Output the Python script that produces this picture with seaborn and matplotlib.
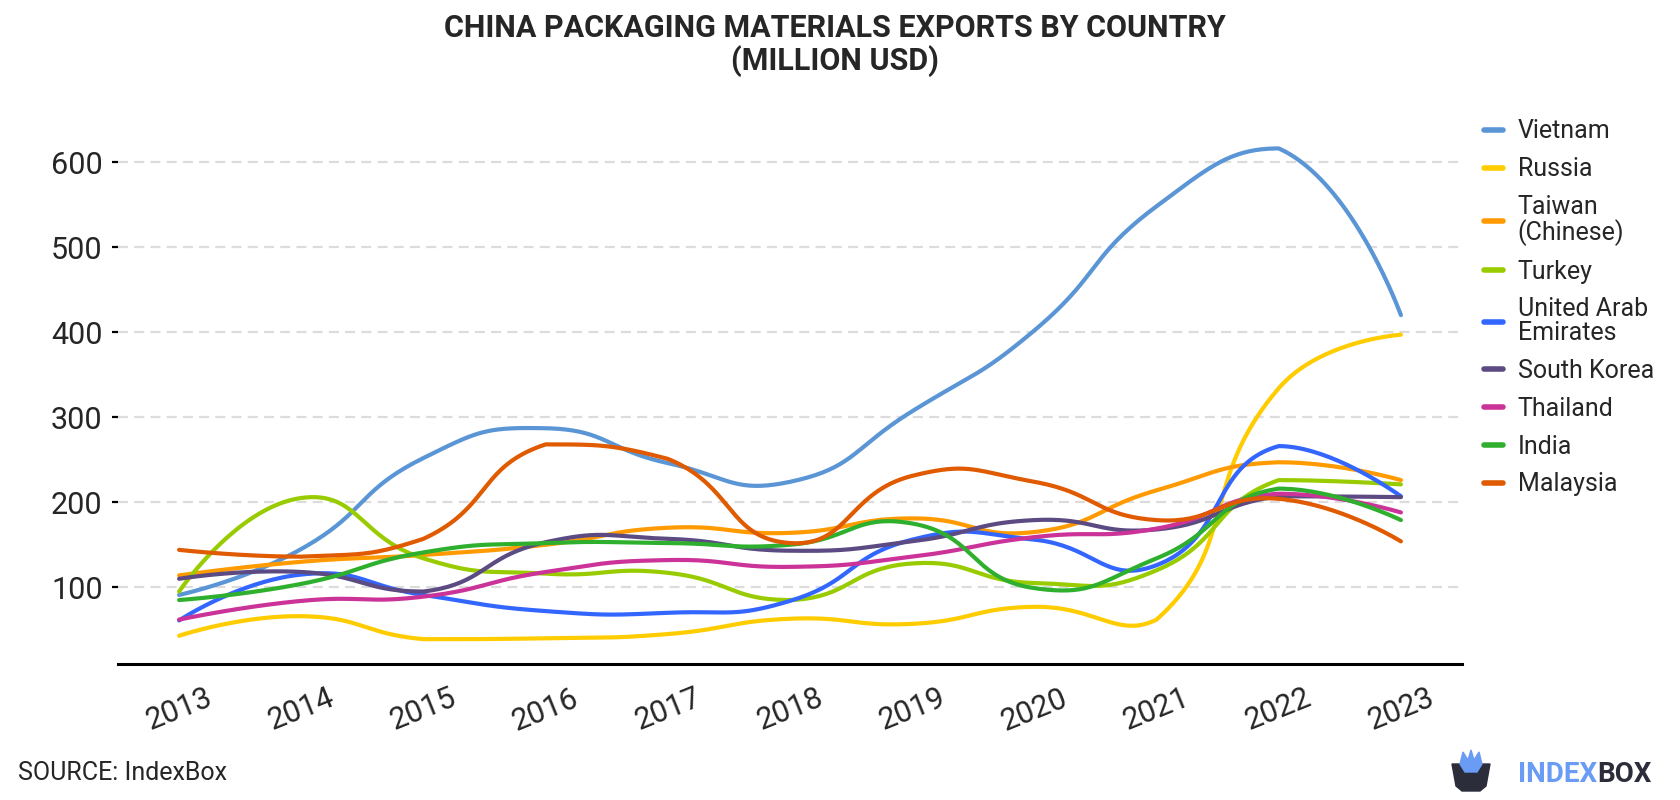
import numpy as np
import pandas as pd
import matplotlib
matplotlib.use("Agg")
import matplotlib.pyplot as plt
from matplotlib.patches import Polygon
import seaborn as sns

# ─── data (million USD) ───────────────────────────────────────────────────────
years = [2013, 2014, 2015, 2016, 2017, 2018, 2019, 2020, 2021, 2022, 2023]

vietnam  = [91, 145, 252, 287, 246, 224, 307, 402, 548, 616, 420]
russia   = [43, 66, 39, 40, 45, 63, 57, 77, 62, 334, 397]
taiwan   = [114, 130, 138, 150, 170, 164, 181, 165, 214, 247, 226]
turkey   = [95, 205, 134, 116, 117, 85, 128, 105, 120, 226, 221]
uae      = [61, 115, 91, 72, 70, 84, 156, 156, 126, 266, 207]
s_korea  = [110, 118, 95, 153, 157, 143, 154, 179, 168, 207, 206]
thailand = [62, 84, 89, 118, 132, 124, 136, 159, 169, 210, 188]
india    = [85, 104, 141, 152, 152, 150, 175, 99, 134, 216, 179]
malaysia = [144, 136, 157, 268, 251, 152, 231, 224, 179, 204, 154]

countries = ["Vietnam", "Russia", "Taiwan (Chinese)", "Turkey", "United Arab Emirates",
             "South Korea", "Thailand", "India", "Malaysia"]
legend_labels = ["Vietnam", "Russia", "Taiwan\n(Chinese)", "Turkey", "United Arab\nEmirates",
                 "South Korea", "Thailand", "India", "Malaysia"]
series = [vietnam, russia, taiwan, turkey, uae, s_korea, thailand, india, malaysia]
colors = ["#5a95d6", "#ffcc00", "#ff9a00", "#99cc00", "#3366ff",
          "#5c4b83", "#cc3399", "#2eb02e", "#e05a00"]

yticks = [100, 200, 300, 400, 500, 600]


# ─── helper: bezier smoothing like the original chart ─────────────────────────
def smooth_line(xs, ys, sx=122.2, sy=0.85, smooth=0.5, n=40):
    """Cubic bezier through the points, control points from neighbours (pixel space)."""
    P = np.column_stack([np.asarray(xs, float) * sx, np.asarray(ys, float) * sy])
    lo, hi = P.min(0), P.max(0)
    out = [P[0]]
    cp0 = P[0].copy()
    t = np.linspace(0, 1, n)[1:, None]
    for i in range(1, len(P)):
        p, prev = P[i], P[i - 1]
        v = None
        if i == len(P) - 1:
            cp1 = p.copy()
        else:
            nxt = P[i + 1]
            v = nxt - prev
            d0 = np.hypot(*(p - prev))
            d1 = np.hypot(*(p - nxt))
            ratio = d1 / (d0 + d1)
            cp1 = p - v * smooth * (1 - ratio)
        c0 = np.clip(cp0, lo, hi)
        c1 = np.clip(cp1, lo, hi)
        B = ((1 - t) ** 3) * prev + 3 * ((1 - t) ** 2) * t * c0 + 3 * (1 - t) * t ** 2 * c1 + t ** 3 * p
        out.extend(B)
        if v is not None:
            cp0 = p + v * smooth * ratio
    out = np.array(out)
    return out[:, 0] / sx, out[:, 1] / sy


rows = []
for name, vals in zip(countries, series):
    sx_, sy_ = smooth_line(years, vals)
    rows.append(pd.DataFrame({"year": sx_, "value": sy_, "country": name}))
df = pd.concat(rows, ignore_index=True)

# ─── plot ─────────────────────────────────────────────────────────────────────
sns.set_style("white")
plt.rcParams["font.family"] = ["Roboto", "DejaVu Sans"]

fig = plt.figure(figsize=(16.8, 8), dpi=100)
ax = fig.add_axes([118 / 1680, 1 - 664 / 800, (1462 - 118) / 1680, (664 - 111) / 800])

sns.lineplot(data=df, x="year", y="value", hue="country", hue_order=countries,
             palette=colors, sort=False, estimator=None, units="country",
             linewidth=3, ax=ax, legend=True)

ax.set_xlim(2012.5, 2023.5)
ax.set_ylim(9.8, 660)
ax.set_xticks(years)
ax.set_xticklabels([str(y) for y in years], rotation=22, fontsize=22)
ax.set_yticks(yticks)
ax.set_yticklabels([str(v) for v in yticks], fontsize=22)
ax.set_xlabel("")
ax.set_ylabel("")

for y in yticks:
    ax.axhline(y, color="#dcdcdc", lw=1.6, ls=(0, (4.5, 2.8)), zorder=0)

for s in ["top", "right", "left"]:
    ax.spines[s].set_visible(False)
ax.spines["bottom"].set_color("black")
ax.spines["bottom"].set_linewidth(2.2)
ax.tick_params(axis="x", length=6, width=1.6, color="black", pad=8)
ax.tick_params(axis="y", length=4, width=1.6, color="black", pad=7, left=True)

handles, _ = ax.get_legend_handles_labels()
ax.get_legend().remove()
for h in handles:
    h.set_linewidth(4)
leg = fig.legend(handles, legend_labels, loc="upper left", bbox_to_anchor=(1484 / 1680, 1 - 119.5 / 800),
                 frameon=False, fontsize=18, handlelength=0.75, handletextpad=0.6,
                 labelspacing=0.55, borderpad=0, borderaxespad=0)
for txt in leg.get_texts():
    txt.set_linespacing(1.0)

fig.text(0.497, 1 - 45 / 800, "CHINA PACKAGING MATERIALS EXPORTS BY COUNTRY\n(MILLION USD)",
         ha="center", va="center", fontsize=22, fontweight="bold", linespacing=1.12)

fig.text(18 / 1680, 1 - 773 / 800, "SOURCE: IndexBox", ha="left", va="center", fontsize=18)

# ─── logo ─────────────────────────────────────────────────────────────────────
ov = fig.add_axes([0, 0, 1, 1], zorder=-1)
ov.set_xlim(0, 1680)
ov.set_ylim(800, 0)
ov.axis("off")
ov.add_patch(Polygon([(1452, 764), (1490, 764), (1486, 786), (1480, 791), (1462, 791), (1456, 786)],
                     closed=True, color="#2b2d3a"))
ov.add_patch(Polygon([(1460, 764), (1463, 752), (1468, 760), (1471, 750), (1474, 760), (1479, 752),
                      (1482, 764), (1477, 772), (1465, 772)], closed=True, color="#6b9cf5"))
t_index = fig.text(1518 / 1680, 1 - 774 / 800, "INDEX", ha="left", va="center", fontsize=20,
                   fontweight="bold", color="#6b9cf5")
fig.canvas.draw()
bb = t_index.get_window_extent()
fig.text(bb.x1 / 1680, 1 - 774 / 800, "BOX", ha="left", va="center", fontsize=20,
         fontweight="bold", color="#2b2d3a")

fig.savefig("out.png", dpi=100)
